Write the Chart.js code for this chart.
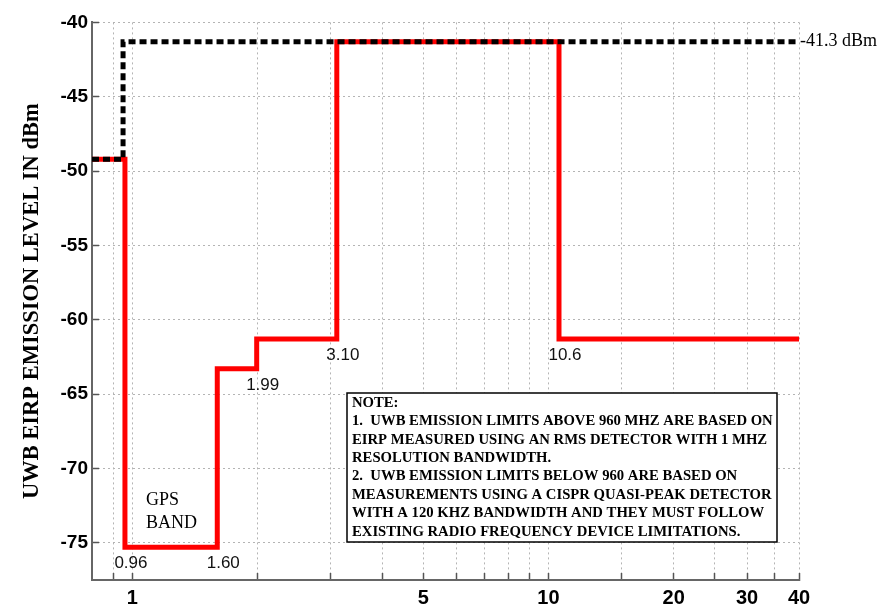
<!DOCTYPE html>
<html>
<head>
<meta charset="utf-8">
<title>UWB emission limits</title>
<script src="https://cdn.jsdelivr.net/npm/chart.js@4.4.1/dist/chart.umd.min.js"></script>
<style>
  html, body { margin: 0; padding: 0; background: #fff; }
  #wrap { width: 890px; height: 607px; }
</style>
</head>
<body>
<div id="wrap"><canvas id="chart" width="890" height="607"></canvas></div>
<script>
// ── Data: frequency in GHz, level in dBm ──
// each level holds from its frequency up to the next one
const limitFreq  = [0.8, 0.96, 1.6, 1.99, 3.1, 10.6, 40];
const limitLevel = [-49.2, -75.3, -63.3, -61.3, -41.3, -61.3, -61.3];

const refFreq  = [0.8, 0.95, 40];
const refLevel = [-49.2, -41.3, -41.3];

// labels for the band edges limitFreq[1..5]
const edgeLabels = ['0.96', '1.60', '1.99', '3.10', '10.6'];

const xTickValues = [0.9, 1, 2, 3, 4, 5, 6, 7, 8, 9, 10, 15, 20, 25, 30, 35, 40];
const xTickLabels = [1, 5, 10, 20, 30, 40];
const yTickValues = [-40, -45, -50, -55, -60, -65, -70, -75];

const noteLines = [
  'NOTE:',
  '1.  UWB EMISSION LIMITS ABOVE 960 MHZ ARE BASED ON',
  'EIRP MEASURED USING AN RMS DETECTOR WITH 1 MHZ',
  'RESOLUTION BANDWIDTH.',
  '2.  UWB EMISSION LIMITS BELOW 960 ARE BASED ON',
  'MEASUREMENTS USING A CISPR QUASI-PEAK DETECTOR',
  'WITH A 120 KHZ BANDWIDTH AND THEY MUST FOLLOW',
  'EXISTING RADIO FREQUENCY DEVICE LIMITATIONS.',
];

const SANS  = '"Liberation Sans", Arial, sans-serif';
const SERIF = '"Liberation Serif", "Times New Roman", serif';

const toPoints = (xs, ys) => xs.map((x, i) => ({ x, y: ys[i] }));

// ── Texts drawn on top of the plot ──
const textLayer = {
  id: 'textLayer',
  afterDraw(chart) {
    const { ctx, chartArea: area, scales: { x, y } } = chart;
    ctx.save();

    // axis title
    ctx.save();
    ctx.translate(32, (area.top + area.bottom) / 2);
    ctx.rotate(-Math.PI / 2);
    ctx.font = `bold 22.5px ${SERIF}`;
    ctx.fillStyle = '#000';
    ctx.textAlign = 'center';
    ctx.textBaseline = 'middle';
    ctx.fillText('UWB EIRP EMISSION LEVEL IN dBm', 0, 0);
    ctx.restore();

    // band edge values, under each step corner
    ctx.font = `17px ${SANS}`;
    ctx.fillStyle = '#111';
    ctx.textAlign = 'center';
    ctx.textBaseline = 'middle';
    edgeLabels.forEach((txt, k) => {
      const i = k + 1;
      const px = x.getPixelForValue(limitFreq[i]);
      const py = y.getPixelForValue(Math.min(limitLevel[i - 1], limitLevel[i]));
      ctx.fillText(txt, px + 6, py + 16);
    });

    // GPS band
    const gx = x.getPixelForValue(limitFreq[1]) + 21;
    const gy = y.getPixelForValue(limitLevel[1]);
    ctx.font = `18px ${SERIF}`;
    ctx.fillStyle = '#000';
    ctx.textAlign = 'left';
    ctx.fillText('GPS', gx, gy - 47);
    ctx.fillText('BAND', gx, gy - 24);

    // reference level
    ctx.fillText('-41.3 dBm', area.right + 1, y.getPixelForValue(refLevel[2]));

    // note box
    const bw = 430, bh = 149;
    const bx = area.right - 22 - bw, by = area.bottom - 38 - bh;
    ctx.fillStyle = '#fff';
    ctx.fillRect(bx, by, bw, bh);
    ctx.strokeStyle = '#000';
    ctx.lineWidth = 1.5;
    ctx.strokeRect(bx, by, bw, bh);
    ctx.fillStyle = '#000';
    ctx.font = `bold 14.7px ${SERIF}`;
    noteLines.forEach((line, i) => {
      ctx.fillText(line, bx + 5, by + 10 + i * 18.4);
    });

    ctx.restore();
  }
};

new Chart(document.getElementById('chart'), {
  type: 'line',
  data: {
    datasets: [
      {
        label: '-41.3 dBm',
        data: toPoints(refFreq, refLevel),
        borderColor: '#000',
        borderWidth: 5,
        borderDash: [7, 4],
        borderJoinStyle: 'miter',
        stepped: 'before',
        pointRadius: 0,
        fill: false,
      },
      {
        label: 'UWB limit',
        data: toPoints(limitFreq, limitLevel),
        borderColor: '#ff0000',
        borderWidth: 5,
        borderJoinStyle: 'miter',
        stepped: 'before',
        pointRadius: 0,
        fill: false,
      },
    ],
  },
  options: {
    responsive: false,
    animation: false,
    layout: { padding: { left: 0, top: 18, right: 91, bottom: 0 } },
    plugins: { legend: { display: false }, tooltip: { enabled: false } },
    scales: {
      x: {
        type: 'logarithmic',
        position: 'bottom',
        min: 0.8,
        max: 40,
        afterBuildTicks: s => { s.ticks = xTickValues.map(v => ({ value: v })); },
        afterFit: s => { s.height = 27; },
        ticks: {
          autoSkip: false,
          maxRotation: 0,
          padding: 13,
          color: '#000',
          font: { family: SANS, size: 20, weight: 'bold' },
          callback: v => xTickLabels.includes(v) ? String(v) : '',
        },
        grid: { color: '#b4b4b4', lineWidth: 1, tickLength: -7, tickColor: '#555', tickWidth: 1.5 },
        border: { color: '#666', width: 2, dash: [2, 3] },
      },
      y: {
        type: 'linear',
        min: -77.5,
        max: -40,
        afterBuildTicks: s => { s.ticks = yTickValues.map(v => ({ value: v })); },
        afterFit: s => { s.width = 92; },
        ticks: {
          padding: 11,
          color: '#000',
          font: { family: SANS, size: 19, weight: 'bold' },
        },
        grid: { color: '#b4b4b4', lineWidth: 1, tickLength: -7, tickColor: '#555', tickWidth: 1.5 },
        border: { color: '#666', width: 2, dash: [2, 3] },
      },
    },
  },
  plugins: [textLayer],
});
</script>
</body>
</html>
